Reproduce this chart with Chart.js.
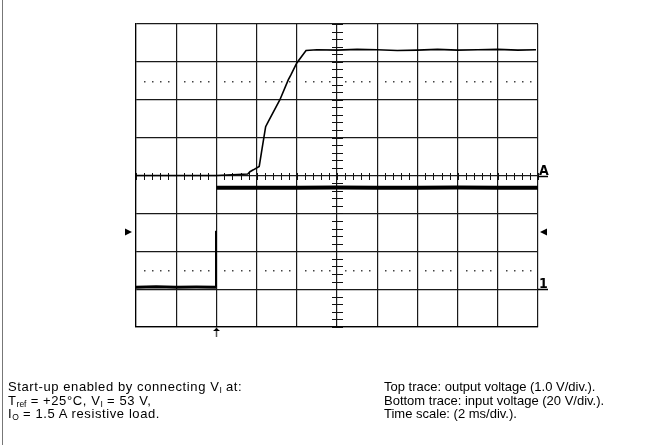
<!DOCTYPE html>
<html>
<head>
<meta charset="utf-8">
<script src="https://cdn.jsdelivr.net/npm/chart.js@4"></script>
<style>
  html, body { margin: 0; padding: 0; background: #fff; }
  #wrap { position: relative; width: 665px; height: 445px; overflow: hidden; }
  #frame { position: absolute; left: 2px; top: 0; width: 1px; height: 445px; background: #777; }
  .note { position: absolute; top: 380px; font-family: "Liberation Sans", Arial, sans-serif;
          font-size: 13px; line-height: 13.5px; color: #000; white-space: nowrap; }
  .note sub { font-size: 8.5px; vertical-align: -2px; line-height: 0; letter-spacing: 0; }
</style>
</head>
<body>
<div id="wrap">
  <canvas id="myChart" width="665" height="445"></canvas>
  <div id="frame"></div>
  <div class="note" style="left:8px; letter-spacing:0.6px">
    Start-up enabled by connecting V<sub>I</sub> at:<br>
    T<sub>ref</sub> = +25°C, V<sub>I</sub> = 53 V,<br>
    I<sub>O</sub> = 1.5 A resistive load.
  </div>
  <div class="note" style="left:384px">
    Top trace: output voltage (1.0 V/div.).<br>
    Bottom trace: input voltage (20 V/div.).<br>
    Time scale: (2 ms/div.).
  </div>
</div>
<script>
// time in ms, 2 ms/div
const outTime = [0, 2, 4, 5.56, 5.67, 5.84, 6.13, 6.27, 6.45, 6.58, 7.16, 7.58, 7.7, 8.0, 8.46,
                 9, 10, 11, 12, 13, 14, 15, 16, 17, 18, 19, 19.9];
// output voltage, 1.0 V/div
const outVolt = [0, 0, 0, 0.04, 0.1, 0.15, 0.24, 0.7, 1.29, 1.42, 2.0, 2.53, 2.65, 2.97, 3.3,
                 3.32, 3.31, 3.33, 3.32, 3.3, 3.31, 3.33, 3.31, 3.32, 3.33, 3.31, 3.32];

// input voltage, 20 V/div: before the switch-on, the edge, and after
const inPreTime = [0, 1, 2, 3, 3.98];
const inPreVolt = [1, 1.2, 1, 1.1, 1];
const inEdgeTime = [3.98, 3.98];
const inEdgeVolt = [1, 30.8];
const inPostTime = [4.0, 6, 8, 10, 12, 14, 16, 18, 20];
const inPostVolt = [53.5, 53.5, 53.5, 53.6, 53.5, 53.5, 53.6, 53.5, 53.5];

const dottedLevels = [2.5, -2.5];   // V, output axis
const triggerTime = 4;              // ms
const triggerLevel = 30;            // V, input axis

const toPoints = (xs, ys) => xs.map((x, i) => ({ x: x, y: ys[i] }));

const scopeMarks = {
  id: 'scopeMarks',
  beforeDatasetsDraw(chart) {
    const c = chart.ctx, x = chart.scales.x, y = chart.scales.y;
    const xMid = Math.round(x.getPixelForValue(10)), yMid = Math.round(y.getPixelForValue(0));
    c.save();
    c.strokeStyle = '#111';
    c.lineWidth = 1;
    // minor ticks on the centre axes
    for (let v = -4; v <= 4.001; v += 0.2) {
      const py = Math.round(y.getPixelForValue(v)) + 0.5;
      c.beginPath(); c.moveTo(xMid - 5, py); c.lineTo(xMid + 6, py); c.stroke();
    }
    for (let t = 0; t <= 20.001; t += 0.4) {
      const px = Math.round(x.getPixelForValue(t)) + 0.5;
      c.beginPath(); c.moveTo(px, yMid - 3); c.lineTo(px, yMid + 4); c.stroke();
    }
    // dotted rise-time lines
    c.fillStyle = '#444';
    dottedLevels.forEach(lv => {
      const py = Math.round(y.getPixelForValue(lv));
      for (let t = 0; t < 20; t += 0.4) {
        if (Math.abs(t / 2 - Math.round(t / 2)) < 0.01) continue;
        const px = Math.round(x.getPixelForValue(t));
        c.fillRect(px, py, 1.5, 1.5);
      }
    });
    c.restore();
  },
  afterDraw(chart) {
    const c = chart.ctx, x = chart.scales.x, y = chart.scales.y, y2 = chart.scales.yIn;
    const l = chart.chartArea.left, r = chart.chartArea.right, b = chart.chartArea.bottom;
    c.save();
    c.fillStyle = '#000';
    c.strokeStyle = '#000';
    // channel markers on the right
    c.font = 'bold 14px "DejaVu Sans Condensed", "Liberation Sans Narrow", sans-serif';
    c.textBaseline = 'alphabetic';
    const yA = Math.round(y.getPixelForValue(0)) + 0.5;
    const y1 = Math.round(y2.getPixelForValue(0)) + 0.5;
    c.fillText('A', r + 1, yA - 2);
    c.fillText('1', r + 1, y1 - 2);
    c.lineWidth = 1.5;
    c.beginPath(); c.moveTo(r, yA); c.lineTo(r + 10, yA); c.stroke();
    c.beginPath(); c.moveTo(r, y1); c.lineTo(r + 10, y1); c.stroke();
    // trigger level arrows
    const yt = Math.round(y2.getPixelForValue(triggerLevel));
    c.beginPath(); c.moveTo(l - 11, yt - 3.5); c.lineTo(l - 4, yt); c.lineTo(l - 11, yt + 3.5); c.fill();
    c.beginPath(); c.moveTo(r + 9, yt - 3.5); c.lineTo(r + 2, yt); c.lineTo(r + 9, yt + 3.5); c.fill();
    // trigger position arrow below the grid
    const xt = Math.round(x.getPixelForValue(triggerTime)) + 0.5;
    c.strokeStyle = '#555';
    c.lineWidth = 1.5;
    c.beginPath(); c.moveTo(xt, b); c.lineTo(xt, b + 10); c.stroke();
    c.beginPath(); c.moveTo(xt - 3.5, b + 4); c.lineTo(xt, b + 1); c.lineTo(xt + 3.5, b + 4); c.fill();
    c.restore();
  }
};

const ctx = document.getElementById('myChart');

const trace = (pts, axis, width) => ({
  data: pts,
  yAxisID: axis,
  borderColor: '#000',
  borderWidth: width,
  pointRadius: 0,
  tension: 0
});

new Chart(ctx, {
  type: 'line',
  data: {
    datasets: [
      trace(toPoints(outTime, outVolt), 'y', 1.6),
      trace(toPoints(inPreTime, inPreVolt), 'yIn', 3),
      trace(toPoints(inEdgeTime, inEdgeVolt), 'yIn', 2),
      trace(toPoints(inPostTime, inPostVolt), 'yIn', 4)
    ]
  },
  options: {
    responsive: false,
    animation: false,
    layout: { padding: { left: 136, right: 127, top: 24, bottom: 118 } },
    plugins: { legend: { display: false }, tooltip: { enabled: false } },
    scales: {
      x: {
        type: 'linear',
        min: 0, max: 20,
        ticks: { display: false, stepSize: 2 },
        grid: { color: '#1a1a1a', lineWidth: 1.2, drawTicks: false },
        border: { color: '#000', width: 1.2 }
      },
      y: {
        min: -4, max: 4,
        ticks: { display: false, stepSize: 1 },
        grid: { color: '#1a1a1a', lineWidth: 1.2, drawTicks: false },
        border: { color: '#000', width: 1.2 }
      },
      yIn: {
        display: false,
        min: -20, max: 140
      }
    }
  },
  plugins: [scopeMarks]
});
</script>
</body>
</html>
